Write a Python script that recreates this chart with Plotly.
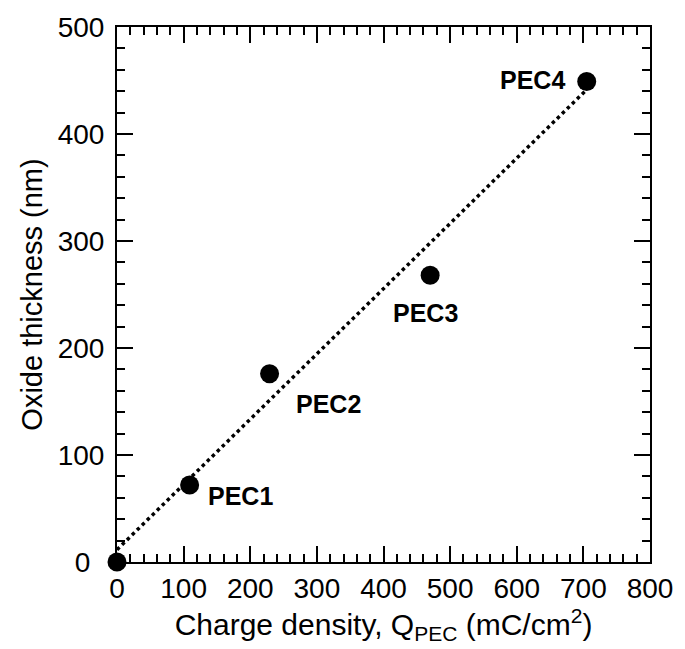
import plotly.graph_objects as go

# Data
charge_density = [0, 109, 229, 470, 705]       # mC/cm^2
oxide_thickness = [0, 72, 176, 268, 449]       # nm
point_labels = ["", "PEC1", "PEC2", "PEC3", "PEC4"]

fit_x = [0, 705]
fit_y = [11.5, 441.5]

x_ticks = [0, 100, 200, 300, 400, 500, 600, 700, 800]
y_ticks = [0, 100, 200, 300, 400, 500]
y_tick_text = ["0\u2002", "100", "200", "300", "400", "500"]

# label offsets in pixels relative to each point
label_dx = [0, 51, 59, -5, -54]
label_dy = [0, -11, -30, -38, 2]

FONT = "Arial, Liberation Sans, sans-serif"

fig = go.Figure()
fig.add_trace(go.Scatter(
    x=fit_x, y=fit_y, mode="lines",
    line=dict(color="black", width=3.5, dash="3.5px,3.5px"),
    showlegend=False, hoverinfo="skip"))
fig.add_trace(go.Scatter(
    x=charge_density, y=oxide_thickness, mode="markers",
    marker=dict(color="black", size=19),
    cliponaxis=False, showlegend=False))

for x, y, t, dx, dy in zip(charge_density, oxide_thickness, point_labels, label_dx, label_dy):
    if not t:
        continue
    fig.add_annotation(x=x, y=y, text=f"<b>{t}</b>", showarrow=False,
                       xshift=dx, yshift=dy,
                       font=dict(family=FONT, size=25, color="black"))

axis_common = dict(
    showline=True, linecolor="black", linewidth=2, mirror="ticks",
    ticks="inside", ticklen=16, tickwidth=2, tickcolor="black",
    showgrid=False, zeroline=False,
    tickfont=dict(family=FONT, size=28, color="black"),
)
minor_common = dict(ticks="inside", ticklen=8, tickwidth=2, tickcolor="black",
                    dtick=20, showgrid=False)

fig.update_xaxes(
    range=[0, 800], tickmode="array", tickvals=x_ticks,
    minor=minor_common,
    title=dict(text="Charge density, Q<sub>PEC</sub> (mC/cm<sup>2</sup>)",
               font=dict(family=FONT, size=30, color="black"), standoff=4),
    **axis_common)
fig.update_yaxes(
    range=[0, 500], tickmode="array", tickvals=y_ticks, ticktext=y_tick_text,
    ticklabelstandoff=5,
    minor=minor_common,
    title=dict(text="Oxide thickness (nm)",
               font=dict(family=FONT, size=29, color="black"), standoff=7),
    **axis_common)

fig.update_layout(
    width=685, height=649,
    margin=dict(l=117, r=32, t=25, b=87),
    plot_bgcolor="white", paper_bgcolor="white",
    font=dict(family=FONT, color="black"),
)

fig.write_html("out.html")
